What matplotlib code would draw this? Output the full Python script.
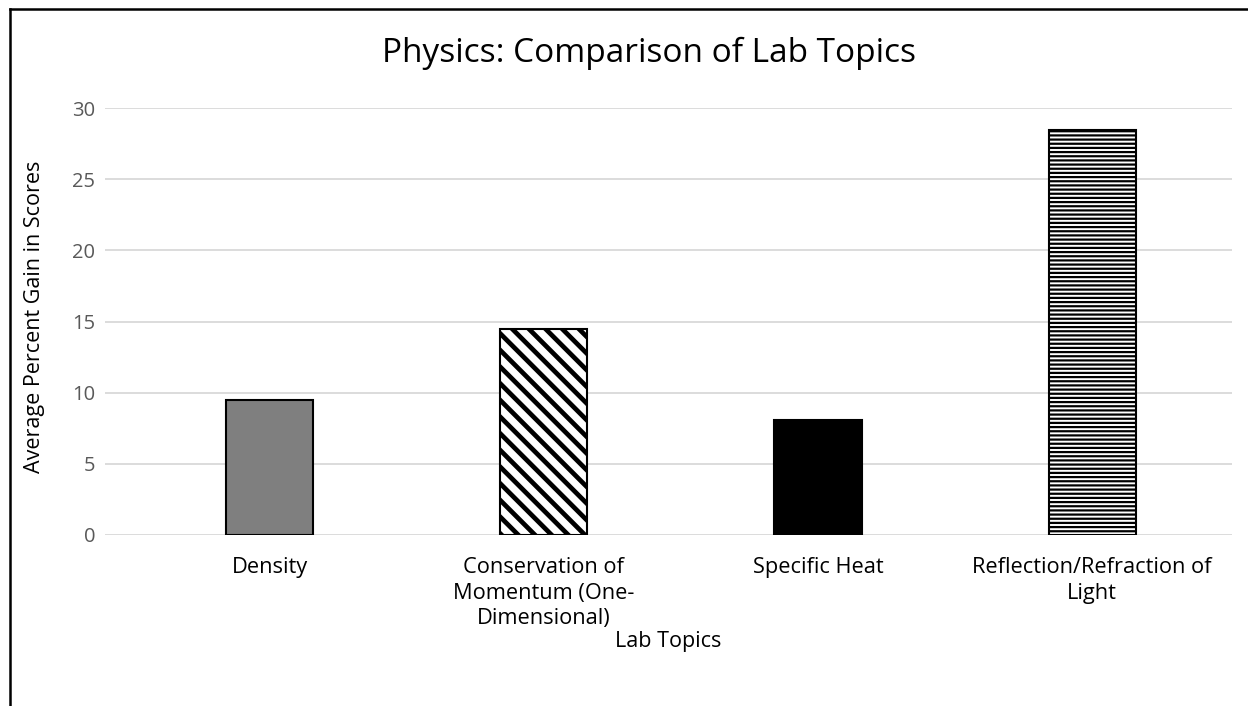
import matplotlib
matplotlib.use("Agg")
import matplotlib.pyplot as plt
from matplotlib.lines import Line2D

categories = ["Density", "Conservation of\nMomentum (One-\nDimensional)", "Specific Heat",
              "Reflection/Refraction of\nLight"]
values = [9.48, 14.45, 8.07, 28.45]
yticks = [0, 5, 10, 15, 20, 25, 30]

plt.rcParams['font.family'] = ['Open Sans', 'DejaVu Sans']
plt.rcParams['hatch.linewidth'] = 3.4

W, H = 1248, 706
fig = plt.figure(figsize=(W / 100, H / 100), dpi=100)
ax = fig.add_axes([105 / W, 1 - 535 / H, (1232 - 105) / W, (535 - 108) / H])

x = list(range(len(categories)))
fills = ["#7f7f7f", "white", "black", "white"]
hatches = [None, "\\\\", None, "----"]
bars = ax.bar(x, values, width=0.318, color=fills, edgecolor="black", linewidth=1.5, zorder=3)
for b, h in zip(bars, hatches):
    if h:
        b.set_hatch(h)
if hasattr(bars[3], "set_hatch_linewidth"):
    bars[3].set_hatch_linewidth(1.6)

ax.set_ylim(0, 30)
ax.set_xlim(-0.60, 3.51)
ax.set_yticks(yticks)
ax.set_yticklabels([str(t) for t in yticks], color="#595959", fontsize=14.5)
ax.set_xticks(x)
ax.set_xticklabels(categories, fontsize=15.7, color="black", linespacing=1.28, va="top")
ax.tick_params(axis="both", length=0)
ax.tick_params(axis="x", pad=16)
ax.tick_params(axis="y", pad=7)
ax.grid(axis="y", color="#d9d9d9", linewidth=1.3, zorder=0)
for s in ax.spines.values():
    s.set_visible(False)

fig.text(35 / W, 1 - 317 / H, "Average Percent Gain in Scores", rotation=90,
         ha="center", va="center", fontsize=15.5)
fig.text(668 / W, 1 - 641 / H, "Lab Topics", ha="center", va="center", fontsize=15.5)
fig.text(649 / W, 1 - 53 / H, "Physics: Comparison of Lab Topics", ha="center", va="center", fontsize=24)

# partial frame (left and top)
fig.add_artist(Line2D([10 / W, 10 / W], [0, 1 - 9 / H], transform=fig.transFigure, color="black", lw=1.8))
fig.add_artist(Line2D([10 / W, 1], [1 - 9 / H, 1 - 9 / H], transform=fig.transFigure, color="black", lw=1.8))

fig.savefig("out.png", dpi=100)
